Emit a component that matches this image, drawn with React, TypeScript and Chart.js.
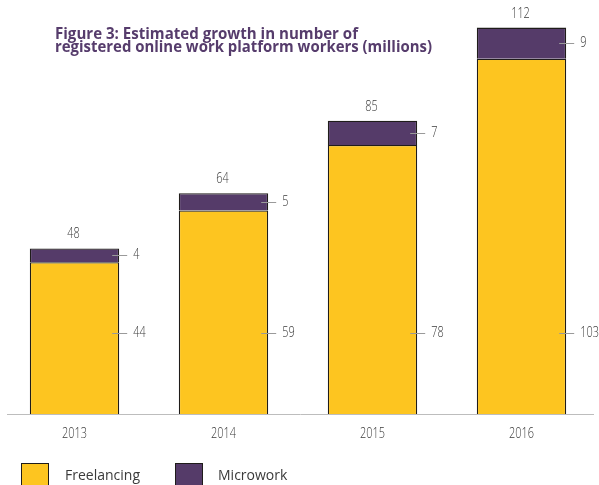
import { useEffect, useRef } from "react";
import { Chart, registerables } from "chart.js";

Chart.register(...registerables);

const years = ["2013", "2014", "2015", "2016"];
const freelancing = [44, 59, 78, 103];
const microwork = [4, 5, 7, 9];
const totals = [48, 64, 85, 112];
const seriesNames = ["Freelancing", "Microwork"];
const titleLines = [
  "Figure 3: Estimated growth in number of",
  "registered online work platform workers (millions)",
];

const YELLOW = "#FDC520";
const PURPLE = "#553B69";
const BORDER = "#1f1c1a";
const TEXT = "#3a3a3a";
const FONT = "'Open Sans', 'DejaVu Sans', sans-serif";
const NUM_FONT = `300 14px 'Open Sans', sans-serif`;
const SQUASH = 0.78;
const FREELANCE_LABEL_VALUE = 23.5;

function squashText(ctx: any, text: string, x: number, y: number, align: "left" | "center") {
  ctx.save();
  ctx.translate(x, y);
  ctx.scale(SQUASH, 1);
  ctx.textAlign = align;
  ctx.textBaseline = "middle";
  ctx.fillText(text, 0, 0);
  ctx.restore();
}

const decorPlugin = {
  id: "decor",
  beforeDatasetsDraw(chart: any) {
    const ctx = chart.ctx;
    const bottom = chart.chartArea.bottom;
    ctx.save();
    ctx.strokeStyle = "#bdbdbd";
    ctx.lineWidth = 1;
    ctx.beginPath();
    ctx.moveTo(7, bottom + 0.5);
    ctx.lineTo(594, bottom + 0.5);
    ctx.stroke();
    ctx.restore();
  },
  afterDatasetsDraw(chart: any) {
    const ctx = chart.ctx;
    const yScale = chart.scales.y;
    const xScale = chart.scales.x;
    const m0 = chart.getDatasetMeta(0);
    const m1 = chart.getDatasetMeta(1);
    ctx.save();
    ctx.font = NUM_FONT;
    ctx.fillStyle = TEXT;
    const drawTick = (right: number, y: number, val: number) => {
      ctx.strokeStyle = "#9a9a9a";
      ctx.lineWidth = 1;
      ctx.beginPath();
      ctx.moveTo(right - 7, Math.round(y) + 0.5);
      ctx.lineTo(right + 8, Math.round(y) + 0.5);
      ctx.stroke();
      squashText(ctx, String(val), right + 14, y, "left");
    };
    m0.data.forEach((bar: any, i: number) => {
      const p = bar.getProps(["x", "width"], true);
      const right = p.x + p.width / 2;
      drawTick(right, yScale.getPixelForValue(FREELANCE_LABEL_VALUE), freelancing[i]);
      const b1 = m1.data[i].getProps(["y", "base"], true);
      drawTick(right, (b1.y + b1.base) / 2, microwork[i]);
      squashText(ctx, String(totals[i]), p.x - 1, b1.y - 14, "center");
    });

    // x category labels
    years.forEach((yr, i) => {
      squashText(ctx, yr, xScale.getPixelForValue(i), chart.chartArea.bottom + 20, "center");
    });

    // title
    ctx.fillStyle = "#563C6C";
    ctx.textAlign = "left";
    ctx.textBaseline = "alphabetic";
    ctx.font = `bold 15.5px ${FONT}`;
    const targets = [303, 377];
    const baselines = [39, 52];
    titleLines.forEach((line, i) => {
      const w = ctx.measureText(line).width;
      const s = targets[i] / w;
      ctx.save();
      ctx.translate(55, baselines[i]);
      ctx.scale(s, 1);
      ctx.fillText(line, 0, 0);
      ctx.restore();
    });

    // legend
    const colors = [YELLOW, PURPLE];
    const boxX = [21, 175];
    const textX = [65, 218];
    ctx.font = `14px ${FONT}`;
    ctx.textBaseline = "middle";
    ctx.textAlign = "left";
    seriesNames.forEach((name, i) => {
      ctx.fillStyle = colors[i];
      ctx.fillRect(boxX[i], 463, 27, 26);
      ctx.strokeStyle = BORDER;
      ctx.lineWidth = 1;
      ctx.strokeRect(boxX[i] + 0.5, 463.5, 27, 26);
      ctx.fillStyle = TEXT;
      ctx.fillText(name, textX[i], 476);
    });
    ctx.restore();
  },
};

export default function App() {
  const ref = useRef<HTMLCanvasElement>(null);
  useEffect(() => {
    if (!ref.current) return;
    const chart = new Chart(ref.current, {
      type: "bar",
      data: {
        labels: years,
        datasets: [
          {
            label: seriesNames[0],
            data: freelancing,
            backgroundColor: YELLOW,
            borderColor: BORDER,
            borderWidth: 1.3,
            barPercentage: 0.6,
            categoryPercentage: 1,
          },
          {
            label: seriesNames[1],
            data: microwork,
            backgroundColor: PURPLE,
            borderColor: BORDER,
            borderWidth: 1.3,
            barPercentage: 0.6,
            categoryPercentage: 1,
          },
        ],
      },
      options: {
        responsive: false,
        animation: false,
        layout: { padding: { left: -3, right: 3, top: 0, bottom: 0 } },
        plugins: {
          legend: { display: false },
          tooltip: { enabled: false },
          title: { display: false },
        },
        scales: {
          x: {
            stacked: true,
            grid: { display: false },
            border: { display: false },
            ticks: { display: false },
            afterFit: (scale: any) => {
              scale.height = 71;
            },
          },
          y: {
            stacked: true,
            display: false,
            min: 0,
            max: 120,
          },
        },
      },
      plugins: [decorPlugin],
    });
    return () => chart.destroy();
  }, []);
  return (
    <div style={{ position: "absolute", left: 0, top: 0, width: 599, height: 485, background: "#fff" }}>
      <canvas ref={ref} width={599} height={485} />
    </div>
  );
}
